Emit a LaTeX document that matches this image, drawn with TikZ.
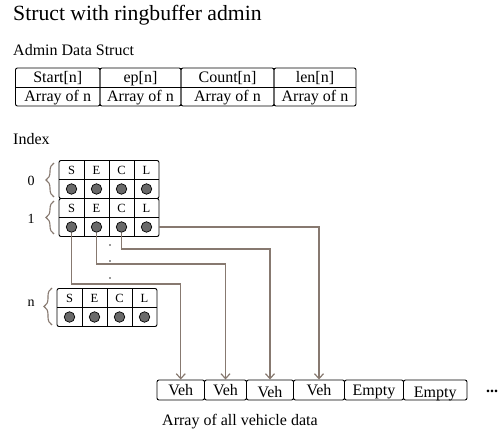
\documentclass[tikz,border=0pt]{standalone}
\usepackage{fontspec}
\setmainfont{Liberation Serif}
\usetikzlibrary{arrows.meta,decorations.pathreplacing}
\definecolor{connc}{RGB}{135,121,112}
\definecolor{dotgrey}{RGB}{105,105,105}
\begin{document}
\begin{tikzpicture}[x=1pt,y=-1pt,
  txt/.style={font=\fontsize{16}{19}\selectfont, inner sep=0pt, anchor=base},
  lbl/.style={font=\fontsize{16}{19}\selectfont, inner sep=0pt, anchor=base west},
  letter/.style={font=\fontsize{12.5}{14}\selectfont, inner sep=0pt},
  idx/.style={font=\fontsize{14}{16}\selectfont, inner sep=0pt},
  box/.style={draw=black, line width=0.9pt, rounded corners=2pt},
  gridline/.style={draw=black, line width=0.9pt},
  vbox/.style={draw=black, line width=0.9pt, rounded corners=2pt, minimum height=20pt, inner sep=0pt},
  dotc/.style={circle, draw=black, line width=0.7pt, fill=dotgrey, minimum size=10.5pt, inner sep=0pt},
  cellc/.style={minimum width=25pt, minimum height=19pt, inner sep=0pt},
  conn/.style={draw=connc, line width=1.2pt, -{Straight Barb[length=5pt,width=9pt]}},
  bracec/.style={draw=connc, line width=1.1pt, decorate, decoration={brace, amplitude=8pt}},
]
\useasboundingbox (0,0) rectangle (500,435);

% title and labels
\node[anchor=base west, font=\fontsize{21.7}{26}\selectfont, inner sep=0pt] (title) at (13,21) {Struct with ringbuffer admin};
\node[lbl] (adminlbl) at (13,56) {Admin Data Struct};
\node[lbl] (indexlbl) at (13,145) {Index};

% admin table
\foreach \a/\b/\h/\n in {15.5/100/{Start[n]}/1, 100/181/{ep[n]}/2, 181/274/{Count[n]}/3, 274/356/{len[n]}/4}{
  \draw[box] (\a,68) rectangle (\b,106);
  \draw[gridline] (\a,87) -- (\b,87);
  \node[txt] (th\n) at ({(\a+\b)/2},82.5) {\h};
  \node[txt] (ta\n) at ({(\a+\b)/2},101.5) {Array of n};
}

% index blocks
\foreach \X/\T/\k in {59/160.5/0, 59/198.5/1, 57/288.5/n}{
  \draw[box] (\X,\T) rectangle ++(100,38);
  \draw[gridline] (\X,\T+19) -- ++(100,0);
  \foreach \i in {1,2,3}{
    \draw[gridline] (\X+25*\i,\T) -- ++(0,38);
  }
  \foreach \c/\i in {S/0,E/1,C/2,L/3}{
    \node[letter] (l\k\c) at (\X+12.5+25*\i,\T+9.5) {\c};
    \node[cellc] (c\k\c) at (\X+12.5+25*\i,\T+28.5) {};
    \node[dotc] (d\k\c) at (\X+12.5+25*\i,\T+28.5) {};
  }
}

% braces and index labels
\draw[bracec] (54,197) -- (54,163);
\draw[bracec] (54,234) -- (54,201);
\draw[bracec] (52,325) -- (52,288);
\node[idx] (i0) at (31,181) {0};
\node[idx] (i1) at (31,219) {1};
\node[idx] (in) at (31,303.5) {n};

% vertical ellipsis
\foreach \y/\j in {245/1,261/2,278/3}{
  \fill[black!80] (110,\y) circle (0.9pt);
}

% vehicle array
\foreach \a/\b/\n in {157/204.5/1, 204.5/246.5/2, 246.5/293.5/3, 293.5/344.5/4, 344.5/403.5/5, 403.5/467/6}{
  \node[vbox, minimum width={(\b-\a)*1pt}] (v\n) at ({(\a+\b)/2},390) {};
}
\node[txt] (vt1) at (v1.center |- 0,395.5) {Veh};
\node[txt] (vt2) at (v2.center |- 0,395.5) {Veh};
\node[txt] (vt3) at (v3.center |- 0,397.5) {Veh};
\node[txt] (vt4) at (v4.center |- 0,395.5) {Veh};
\node[txt] (vt5) at (v5.center |- 0,395.5) {Empty};
\node[txt] (vt6) at (v6.center |- 0,397.5) {Empty};
\node[txt, font=\fontsize{16}{19}\selectfont\bfseries] (more) at (492,392) {...};
\node[lbl] (arrlbl) at (162,425) {Array of all vehicle data};

% connectors
\draw[conn] (d1S) |- (v1.north |- 0,284) -- (v1.north);
\draw[conn] (d1E) |- (v2.north |- 0,264) -- (v2.north);
\draw[conn] (d1C) |- (v3.north |- 0,249) -- (v3.north);
\draw[conn] (c1L.east) -| (v4.north);
\end{tikzpicture}
\end{document}
